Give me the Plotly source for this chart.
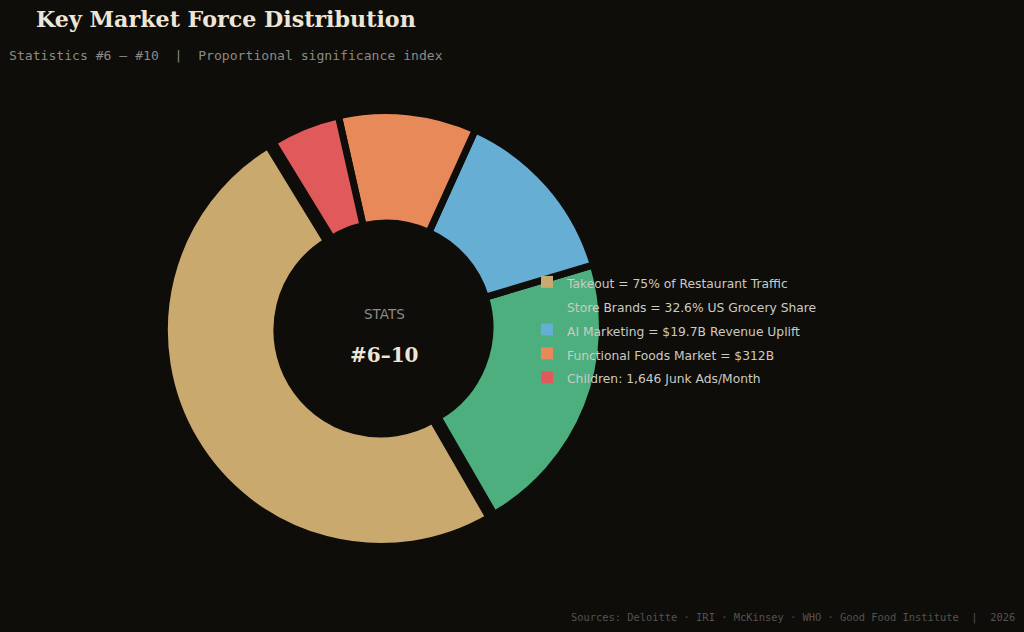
import plotly.graph_objects as go

# ---- data ----
labels = [
    "Takeout = 75% of Restaurant Traffic",
    "Store Brands = 32.6% US Grocery Share",
    "AI Marketing = $19.7B Revenue Uplift",
    "Functional Foods Market = $312B",
    "Children: 1,646 Junk Ads/Month",
]
values = [49.6, 21.3, 13.6, 10.3, 5.2]
pulls = [0.028, 0, 0, 0, 0]
colors = ["#C9A96E", "#4CAF7D", "#67AED4", "#E8895A", "#E05A5C"]

title_text = "Key Market Force Distribution"
subtitle_text = "Statistics #6 \u2014 #10  |  Proportional significance index"
footer_text = "Sources: Deloitte \u00b7 IRI \u00b7 McKinsey \u00b7 WHO \u00b7 Good Food Institute  |  2026"
center_top = "STATS"
center_main = "#6\u201310"

BG = "#0E0D0A"
W, H = 1024, 632

legend_labels = [f'<span style="font-size:12.3px">{l}</span>' for l in labels]
domain = dict(x=[163.5 / W, 608.5 / W], y=[82.5 / H, 527.5 / H])

common = dict(
    labels=legend_labels,
    values=values,
    pull=pulls,
    hole=0.48,
    sort=False,
    direction="counterclockwise",
    rotation=150,
    textinfo="none",
    hoverinfo="label+percent",
    domain=domain,
)

fig = go.Figure()
# base pie (drives the legend, plain swatches)
fig.add_trace(go.Pie(marker=dict(colors=colors, line=dict(width=0)), showlegend=True, **common))
# same pie on top with background-coloured separators
fig.add_trace(go.Pie(marker=dict(colors=colors, line=dict(color=BG, width=7)), showlegend=False, **common))

annotations = [
    dict(text=f"<b>{title_text}</b>", x=34 / W, y=1 - 19 / H, xanchor="left", yanchor="middle",
         font=dict(family="DejaVu Serif", size=22.2, color="#EDE6D6")),
    dict(text=subtitle_text, x=7 / W, y=1 - 55 / H, xanchor="left", yanchor="middle",
         font=dict(family="DejaVu Sans Mono", size=13.1, color="#8C8A84")),
    dict(text=footer_text, x=1017 / W, y=1 - 617 / H, xanchor="right", yanchor="middle",
         font=dict(family="DejaVu Sans Mono", size=10.4, color="#55534E")),
    dict(text=center_top, x=384.5 / W, y=1 - 314 / H, xanchor="center", yanchor="middle",
         font=dict(family="DejaVu Sans", size=13.5, color="#8C8A84")),
    dict(text=f"<b>{center_main}</b>", x=384.5 / W, y=1 - 355 / H, xanchor="center", yanchor="middle",
         font=dict(family="DejaVu Serif", size=20, color="#EDE6D6")),
]

fig.update_layout(
    width=W,
    height=H,
    paper_bgcolor=BG,
    plot_bgcolor=BG,
    margin=dict(l=0, r=0, t=0, b=0),
    showlegend=True,
    legend=dict(
        x=527 / W, y=1 - 265 / H, xanchor="left", yanchor="top",
        bgcolor="rgba(0,0,0,0)",
        font=dict(family="DejaVu Sans", size=16, color="#CCCAC2"),
        itemclick=False, itemdoubleclick=False,
    ),
    annotations=[dict(a, xref="paper", yref="paper", showarrow=False) for a in annotations],
)

fig.write_html("out.html")
